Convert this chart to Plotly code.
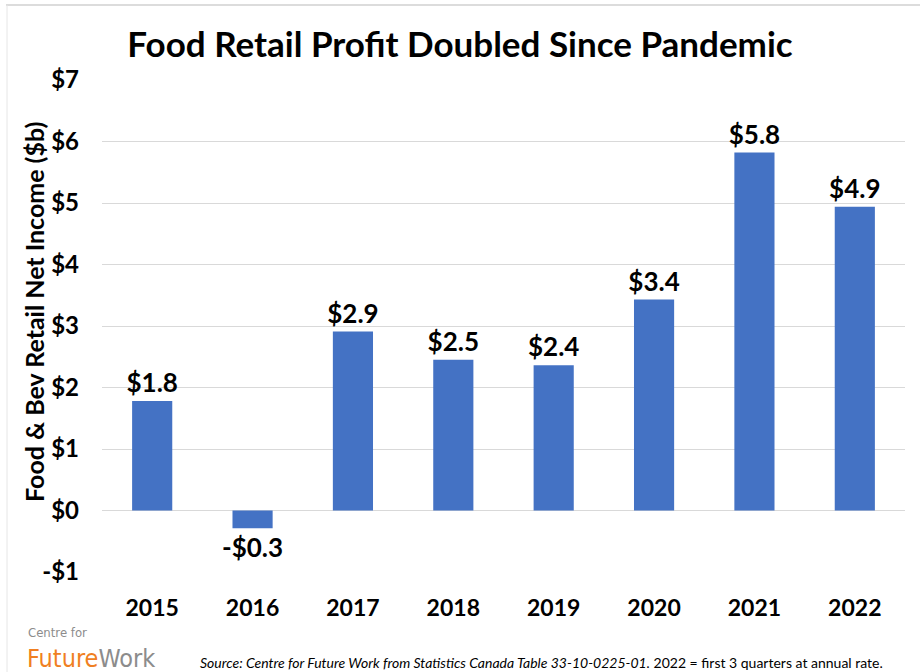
import plotly.graph_objects as go

# 数据
years = ["2015", "2016", "2017", "2018", "2019", "2020", "2021", "2022"]
net_income = [1.78, -0.29, 2.91, 2.45, 2.36, 3.43, 5.82, 4.94]
labels = ["$1.8", "-$0.3", "$2.9", "$2.5", "$2.4", "$3.4", "$5.8", "$4.9"]
tick_vals = [-1, 0, 1, 2, 3, 4, 5, 6, 7]
tick_text = ["-$1", "$0", "$1", "$2", "$3", "$4", "$5", "$6", "$7"]

FONT = "Lato"
BLUE = "#4472C4"
GRID = "#d9d9d9"

# 绘图区像素位置 (用于换算注释坐标)
L, R, T, B = 102, 15, 80, 100
PW, PH = 920 - L - R, 672 - T - B


def px_x(x):
    return (x - L) / PW


def px_y(y):
    return (672 - B - y) / PH


fig = go.Figure()
fig.add_trace(go.Bar(
    x=years, y=net_income,
    marker=dict(color=BLUE, line=dict(width=0)),
    text=labels, textposition="outside", constraintext="none",
    textfont=dict(family=FONT, size=26, color="black", weight="bold"),
    cliponaxis=False,
))

fig.update_layout(
    width=920, height=672,
    margin=dict(l=L, r=R, t=T, b=B, autoexpand=False),
    paper_bgcolor="white", plot_bgcolor="white",
    bargap=0.6,
    showlegend=False,
    font=dict(family=FONT, color="black"),
    title=dict(text="<b>Food Retail Profit Doubled Since Pandemic</b>",
               x=0.5, xanchor="center", y=1 - 45 / 672, yanchor="middle",
               font=dict(family=FONT, size=35, color="black")),
)

fig.update_xaxes(
    tickfont=dict(family=FONT, size=23, color="black", weight="bold"),
    showline=False, ticks="", showgrid=False, ticklabelstandoff=20,
)
fig.update_yaxes(
    range=[-1, 7], tickvals=tick_vals, ticktext=tick_text,
    tickfont=dict(family=FONT, size=24, color="black", weight="bold"),
    showgrid=True, gridcolor=GRID, gridwidth=1,
    zeroline=True, zerolinecolor=GRID, zerolinewidth=1,
    ticks="", ticklabelstandoff=22,
)

# y轴标题
fig.add_annotation(xref="paper", yref="paper", x=px_x(34), y=px_y(312),
                   xanchor="center", yanchor="middle", textangle=-90, showarrow=False,
                   text="<b>Food & Bev Retail Net Income ($b)</b>",
                   font=dict(family=FONT, size=25, color="black"))

# 标志与数据来源
fig.add_annotation(xref="paper", yref="paper", x=px_x(26), y=px_y(632),
                   xanchor="left", yanchor="middle", showarrow=False,
                   text="Centre for",
                   font=dict(family="Liberation Sans Narrow, DejaVu Sans Condensed", size=13, color="#8c8c8c"))
fig.add_annotation(xref="paper", yref="paper", x=px_x(25), y=px_y(658),
                   xanchor="left", yanchor="middle", showarrow=False,
                   text="<span style='color:#F07F22'>Future</span><span style='color:#8c8c8c'>Work</span>",
                   font=dict(family="Liberation Sans Narrow, DejaVu Sans Condensed", size=25))
fig.add_annotation(xref="paper", yref="paper", x=px_x(885), y=px_y(662),
                   xanchor="right", yanchor="middle", showarrow=False,
                   text="<i>Source: Centre for Future Work from Statistics Canada Table 33-10-0225-01.</i> 2022 = first 3 quarters at annual rate.",
                   font=dict(family=FONT, size=14, color="black"))

# 图表外框 (上、左)
fig.add_shape(type="line", xref="paper", yref="paper",
              x0=px_x(6), x1=px_x(920), y0=px_y(5), y1=px_y(5),
              line=dict(color="#dcdcdc", width=2))
fig.add_shape(type="line", xref="paper", yref="paper",
              x0=px_x(7), x1=px_x(7), y0=px_y(5), y1=px_y(672),
              line=dict(color="#e6e6e6", width=1))

fig.write_html("out.html", config={"displayModeBar": False},
               post_script="document.body.style.margin='0';")
